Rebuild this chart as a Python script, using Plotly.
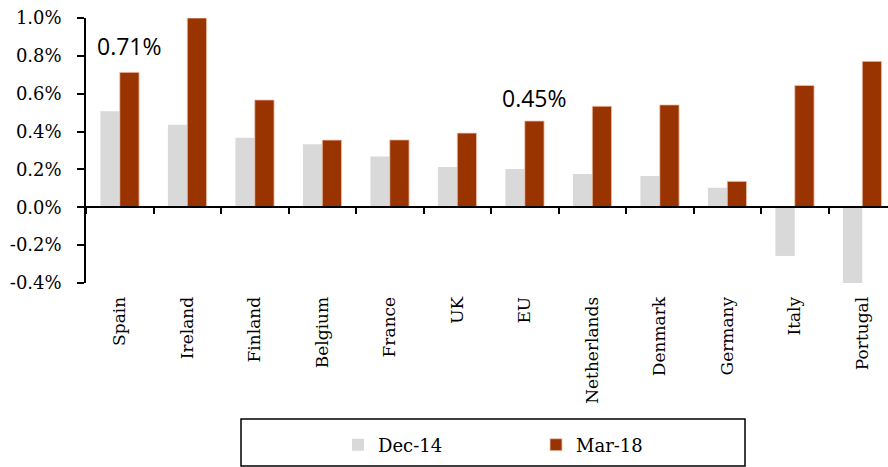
import plotly.graph_objects as go

countries = ["Spain", "Ireland", "Finland", "Belgium", "France", "UK", "EU",
             "Netherlands", "Denmark", "Germany", "Italy", "Portugal"]
dec14 = [0.507, 0.436, 0.367, 0.333, 0.268, 0.213, 0.202, 0.176, 0.165, 0.103, -0.257, -0.41]
mar18 = [0.713, 1.0, 0.567, 0.355, 0.356, 0.392, 0.456, 0.534, 0.541, 0.137, 0.644, 0.771]
series_names = ["Dec-14", "Mar-18"]
y_ticks = [-0.4, -0.2, 0.0, 0.2, 0.4, 0.6, 0.8, 1.0]
y_tick_text = ["-0.4%", "-0.2%", "0.0%", "0.2%", "0.4%", "0.6%", "0.8%", "1.0%"]

L, R, T, B = 86, 0, 18, 184
W, H = 888, 467
plot_w = W - L - R
plot_h = H - T - B
cat_px = 67.5
ymin, ymax = -0.4, 1.0

fig = go.Figure()
fig.add_trace(go.Bar(x=countries, y=dec14, name=series_names[0],
                     marker=dict(color="#d9d9d9", line=dict(width=0))))
fig.add_trace(go.Bar(x=countries, y=mar18, name=series_names[1],
                     marker=dict(color="#993300", line=dict(width=0.8, color="#f0c8b4"))))

serif = "DejaVu Serif"

fig.update_layout(
    width=W, height=H,
    margin=dict(l=L, r=R, t=T, b=B, pad=0, autoexpand=False),
    paper_bgcolor="white", plot_bgcolor="white",
    barmode="group", bargap=0.427, bargroupgap=0,
    font=dict(family=serif, size=18, color="black"),
    xaxis=dict(
        type="category", categoryorder="array", categoryarray=countries,
        range=[-0.5, -0.5 + plot_w / cat_px],
        anchor="free", position=(0 - ymin) / (ymax - ymin),
        showline=True, linecolor="black", linewidth=1.5,
        ticks="outside", tickson="boundaries", ticklen=6, tickwidth=1.5, tickcolor="black",
        tickangle=-90, tickfont=dict(family=serif, size=17, color="black"),
        ticklabelstandoff=82, automargin=False,
        showgrid=False, zeroline=False,
    ),
    yaxis=dict(
        range=[ymin, ymax], tickvals=y_ticks, ticktext=y_tick_text,
        showline=True, linecolor="black", linewidth=1.5,
        ticks="outside", ticklen=7, tickwidth=1.5, tickcolor="black",
        tickfont=dict(family=serif, size=18, color="black"),
        ticklabelstandoff=12, automargin=False,
        showgrid=False, zeroline=False,
    ),
    legend=dict(
        orientation="h", xref="container", yref="container",
        x=338 / W, xanchor="left",
        y=1 - 445 / H, yanchor="middle",
        bgcolor="rgba(0,0,0,0)", borderwidth=0,
        font=dict(family=serif, size=18, color="black"),
        entrywidth=153, entrywidthmode="pixels",
    ),
    shapes=[dict(
        type="rect", xref="paper", yref="paper",
        x0=(241 - L) / plot_w, x1=(745 - L) / plot_w,
        y0=(plot_h - (466 - T)) / plot_h, y1=(plot_h - (419 - T)) / plot_h,
        line=dict(color="black", width=1.5), fillcolor="rgba(0,0,0,0)",
    )],
    annotations=[
        dict(x="Spain", y=0.85, xref="x", yref="y", text="0.71%", showarrow=False,
             xshift=10, font=dict(family="Open Sans", size=23, color="black")),
        dict(x="EU", y=0.58, xref="x", yref="y", text="0.45%", showarrow=False,
             xshift=9.5, font=dict(family="Open Sans", size=23, color="black")),
    ],
)

fig.write_html("out.html", config={"displayModeBar": False},
               post_script="document.body.style.margin='0';document.body.style.padding='0';")
